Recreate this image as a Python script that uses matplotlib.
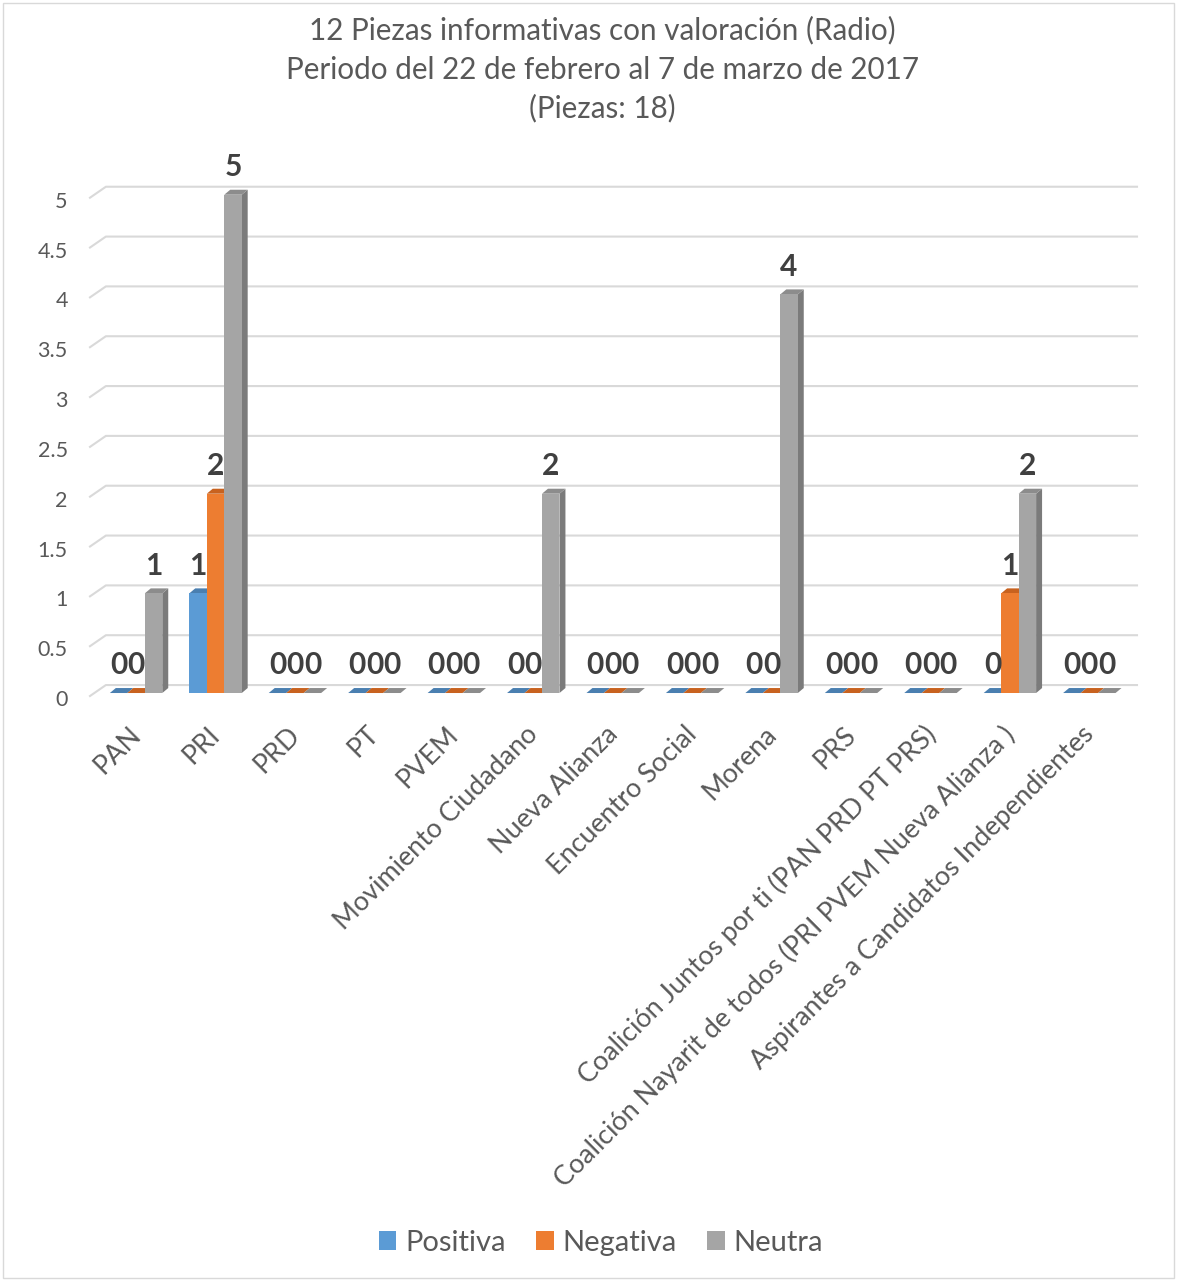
import matplotlib
matplotlib.use('Agg')
import matplotlib.pyplot as plt
import matplotlib.transforms as mtransforms
from matplotlib.patches import Polygon, Rectangle

categories = ["PAN", "PRI", "PRD", "PT", "PVEM", "Movimiento Ciudadano", "Nueva Alianza",
              "Encuentro Social", "Morena", "PRS",
              "Coalición Juntos por ti (PAN PRD PT PRS)",
              "Coalición Nayarit de todos (PRI PVEM Nueva Alianza )",
              "Aspirantes a Candidatos Independientes"]
positiva = [0, 1, 0, 0, 0, 0, 0, 0, 0, 0, 0, 0, 0]
negativa = [0, 2, 0, 0, 0, 0, 0, 0, 0, 0, 0, 1, 0]
neutra = [1, 5, 0, 0, 0, 2, 0, 0, 4, 0, 0, 2, 0]
series_names = ["Positiva", "Negativa", "Neutra"]
yticks = [0, 0.5, 1, 1.5, 2, 2.5, 3, 3.5, 4, 4.5, 5]
ytick_labels = ["0", "0.5", "1", "1.5", "2", "2.5", "3", "3.5", "4", "4.5", "5"]
title_lines = ["12 Piezas informativas con valoración (Radio)",
               "Periodo del 22 de febrero al 7 de marzo de 2017",
               "(Piezas: 18)"]

FONT = ["Lato", "DejaVu Sans"]
plt.rcParams['font.family'] = FONT

front = ["#5B9BD5", "#ED7D31", "#A5A5A5"]
side = ["#41719C", "#AE5A21", "#7B7B7B"]
top = ["#4A7FB0", "#C8621F", "#8C8C8C"]
TXT = "#595959"

W, H = 1177, 1281
fig = plt.figure(figsize=(W / 100, H / 100), dpi=100)
ax = fig.add_axes([90 / W, (H - 698) / H, 1047 / W, (5.3 * 100.6) / H])
ax.set_xlim(-0.58, 12.6)
ax.set_ylim(0, 5.3)
for s in ax.spines.values():
    s.set_visible(False)

# back-wall gridlines (front edge slightly below, back edge above the bar plane)
gx0, gdx = -0.58, 0.2
gf, gb = -0.03, 0.08
for v in yticks:
    ax.plot([gx0, gx0 + gdx, 12.6], [v + gf, v + gb, v + gb], color="#D9D9D9",
            lw=1.5, zorder=0, clip_on=False)

bw = 0.22
ddx, ddy = 0.075, 0.05
data = [positiva, negativa, neutra]
for si, vals in enumerate(data):
    off = (si - 1) * bw
    for i, v in enumerate(vals):
        x0 = i + off - bw / 2
        x1 = x0 + bw
        z = 2 + si
        ax.add_patch(Polygon([(x1, 0), (x1 + ddx, ddy), (x1 + ddx, v + ddy), (x1, v)],
                             closed=True, facecolor=side[si], edgecolor='none', zorder=z))
        ax.add_patch(Polygon([(x0, v), (x1, v), (x1 + ddx, v + ddy), (x0 + ddx, v + ddy)],
                             closed=True, facecolor=top[si], edgecolor='none', zorder=z))
    ax.bar([i + off for i in range(len(vals))], vals, width=bw, color=front[si],
           zorder=2 + si, label=series_names[si])
    for i, v in enumerate(vals):
        ax.annotate(str(v), (i + off, v), xytext=(0, 13.5), textcoords='offset points',
                    ha='center', va='baseline', fontsize=21.5, fontweight='bold',
                    color="#404040", zorder=10)

ax.set_yticks([v - 0.05 for v in yticks])
ax.set_yticklabels(ytick_labels)
ax.set_xticks(range(len(categories)))
ax.set_xticklabels(categories, rotation=45, ha='right', va='top', rotation_mode='anchor')
ax.tick_params(axis='y', length=0, pad=16, labelsize=15.5, labelcolor=TXT)
ax.tick_params(axis='x', length=0, pad=17, labelsize=19.4, labelcolor=TXT)
shift = mtransforms.ScaledTranslation(-8 / 100, 0, fig.dpi_scale_trans)
for lab in ax.get_xticklabels():
    lab.set_transform(lab.get_transform() + shift)

ty = [30, 70, 108]
for line, y in zip(title_lines, ty):
    fig.text(0.5 + 14 / W, 1 - y / H, line, ha='center', va='center', fontsize=21.3, color=TXT)

handles = [Rectangle((0, 0), 1, 1, facecolor=c) for c in front]
fig.legend(handles, series_names, loc='center', bbox_to_anchor=(601 / W, 1 - 1243 / H),
           ncol=3, frameon=False, fontsize=21, handlelength=0.6, handleheight=0.6,
           handletextpad=0.3, columnspacing=1.05, labelcolor=TXT)

fig.add_artist(Rectangle((3 / W, 3 / H), 1 - 6 / W, 1 - 6 / H, transform=fig.transFigure,
                         fill=False, edgecolor="#D9D9D9", lw=1))

fig.savefig("out.png", dpi=100)
